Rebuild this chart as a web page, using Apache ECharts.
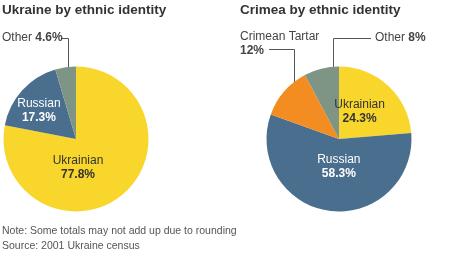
<!DOCTYPE html>
<html><head><meta charset="utf-8">
<script src="https://cdn.jsdelivr.net/npm/echarts@6/dist/echarts.min.js"></script>
<style>html,body{margin:0;padding:0;background:#fff}#c{width:474px;height:255px}</style>
</head><body><div id="c"></div>
<script>
const ukraineNames = ['Ukrainian', 'Russian', 'Other'];
const ukraineValues = [77.8, 17.3, 4.6];
const crimeaNames = ['Ukrainian', 'Russian', 'Crimean Tartar', 'Other'];
const crimeaValues = [24.3, 58.3, 12, 8];
const titles = ['Ukraine by ethnic identity', 'Crimea by ethnic identity'];
const notes = ['Note: Some totals may not add up due to rounding', 'Source: 2001 Ukraine census'];

const FONT = '"Liberation Sans", Arial, sans-serif';
const colorMap = {'Ukrainian':'#f8d62b','Russian':'#4a6e8e','Other':'#7e9484','Crimean Tartar':'#f38d22'};
const textColor = {'Ukrainian':'#333','Russian':'#fff'};
const rich = c => ({
  n:{fontFamily:FONT,fontSize:12,color:c,lineHeight:14},
  v:{fontFamily:FONT,fontSize:12,fontWeight:'bold',color:c,lineHeight:14}
});

function build(names, values, offsets, outside) {
  return names.map((n,i)=>{
    const item = {name:n, value:values[i], itemStyle:{color:colorMap[n]}};
    if (outside[n]) {
      item.label = {show:true, formatter: outside[n].fmt, rich: rich('#444'), position:'outside', overflow:'none', width:200};
      item.labelLine = {show:false};
    } else {
      item.label = {show:true, position:'inside', formatter:'{n|'+n+'}\n{v|'+values[i]+'%}',
        rich: rich(textColor[n]), offset: offsets[n] || [0,0]};
    }
    return item;
  });
}

const ukData = build(ukraineNames, ukraineValues,
  {'Russian':[-8,-2],'Ukrainian':[-23,-2]},
  {'Other':{fmt:'{n|Other }{v|'+ukraineValues[2]+'%}'}});
const crData = build(crimeaNames, crimeaValues,
  {'Ukrainian':[-6,2],'Russian':[5,-11]},
  {'Crimean Tartar':{fmt:'{n|Crimean Tartar}\n{v|'+crimeaValues[2]+'%}'},
   'Other':{fmt:'{n|Other }{v|'+crimeaValues[3]+'%}'}});

const outPos = {
  0:{'Other':{x:2,y:31,align:'left',verticalAlign:'top'}},
  1:{'Crimean Tartar':{x:240,y:30,align:'left',verticalAlign:'top'},
     'Other':{x:375,y:31,align:'left',verticalAlign:'top'}}
};

const chart = echarts.init(document.getElementById('c'), null, {renderer:'canvas'});
const mkSeries = (data, center, idx) => ({
  type:'pie', radius:[0,72.5], center:center, startAngle:90, clockwise:true,
  data:data, silent:true, animation:false, avoidLabelOverlap:false,
  itemStyle:{borderWidth:0},
  labelLayout: p => (outPos[idx][data[p.dataIndex].name] || {})
});
chart.setOption({
  animation:false,
  title:[
    {text:titles[0], left:2, top:3, padding:0, textStyle:{fontFamily:FONT,fontSize:13.5,fontWeight:'bold',color:'#333'}},
    {text:titles[1], left:240, top:3, padding:0, textStyle:{fontFamily:FONT,fontSize:13.5,fontWeight:'bold',color:'#333'}}
  ],
  series:[mkSeries(ukData,[76,139],0), mkSeries(crData,[339,139],1)],
  graphic:[
    {type:'polyline', shape:{points:[[61,38.5],[68.5,38.5],[68.5,78]]}, style:{stroke:'#555',lineWidth:1,fill:null}},
    {type:'polyline', shape:{points:[[269,49.5],[294.5,49.5],[294.5,90]]}, style:{stroke:'#555',lineWidth:1,fill:null}},
    {type:'polyline', shape:{points:[[371,38.5],[333.5,38.5],[333.5,78]]}, style:{stroke:'#555',lineWidth:1,fill:null}},
    {type:'text', left:2, top:226, style:{text:notes[0], font:'10.5px '+FONT, fill:'#555'}},
    {type:'text', left:2, top:241, style:{text:notes[1], font:'10.5px '+FONT, fill:'#555'}}
  ]
});
</script></body></html>
